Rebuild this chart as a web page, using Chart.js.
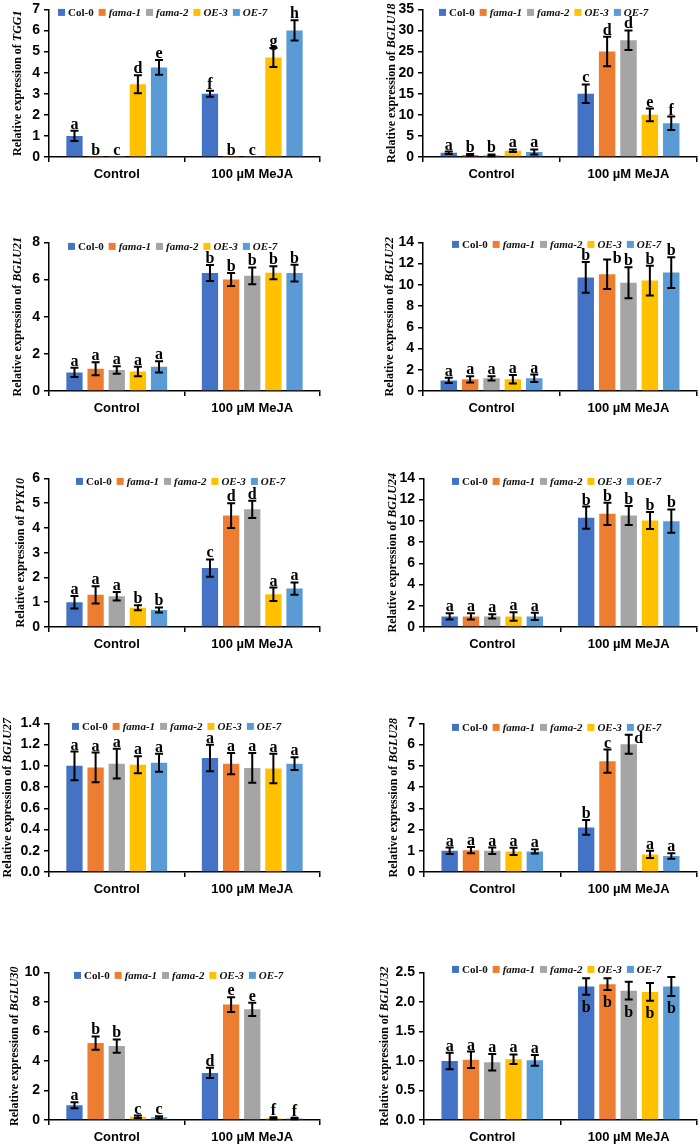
<!DOCTYPE html>
<html>
<head>
<meta charset="utf-8">
<script src="https://cdn.jsdelivr.net/npm/chart.js@4.4.0/dist/chart.umd.min.js"></script>
<style>
  body { margin: 0; background: #fff; }
  #wrap { position: relative; width: 700px; height: 1147px; overflow: hidden; background: #fff; }
  #wrap canvas { position: absolute; }
</style>
</head>
<body>
<div id="wrap"></div>
<script>
const categories = ["Control", "100 µM MeJA"];
const genotypes = ["Col-0", "fama-1", "fama-2", "OE-3", "OE-7"];
const italicName = [false, true, true, true, true];
const barColors = ["#4472C4", "#ED7D31", "#A5A5A5", "#FFC000", "#5B9BD5"];

const genes = ["TGG1", "BGLU18", "BGLU21", "BGLU22", "PYK10", "BGLU24", "BGLU27", "BGLU28", "BGLU30", "BGLU32"];
const yMax = [7, 35, 8, 14, 6, 14, 1.4, 7, 10, 2.5];
const yStep = [1, 5, 1, 2, 1, 2, 0.2, 1, 2, 0.5];
const yDecimals = [0, 0, 0, 0, 0, 0, 1, 0, 0, 1];

// one row per genotype: [Control, MeJA]
const tgg1Mean = [[1.0, 3.0], [0.02, 0.02], [0.02, 0.02], [3.45, 4.72], [4.25, 6.0]];
const tgg1Err = [[0.24, 0.14], [0, 0], [0, 0], [0.43, 0.45], [0.35, 0.48]];
const tgg1Let = [["a", "f"], ["b", "b"], ["c", "c"], ["d", "g"], ["e", "h"]];

const bglu18Mean = [[1.0, 15.0], [0.5, 25.0], [0.4, 27.7], [1.5, 10.0], [1.2, 8.0]];
const bglu18Err = [[0.3, 2.2], [0.2, 3.5], [0.2, 2.3], [0.3, 1.5], [0.6, 1.6]];
const bglu18Let = [["a", "c"], ["b", "d"], ["b", "d"], ["a", "e"], ["a", "f"]];

const bglu21Mean = [[1.0, 6.35], [1.2, 6.0], [1.13, 6.2], [1.05, 6.37], [1.3, 6.35]];
const bglu21Err = [[0.25, 0.43], [0.35, 0.35], [0.2, 0.45], [0.25, 0.35], [0.3, 0.45]];

const bglu22Mean = [[1.0, 10.7], [1.1, 11.0], [1.2, 10.2], [1.1, 10.4], [1.2, 11.16]];
const bglu22Err = [[0.25, 1.45], [0.3, 1.4], [0.2, 1.45], [0.4, 1.4], [0.35, 1.45]];

const pyk10Mean = [[1.0, 2.38], [1.3, 4.5], [1.24, 4.75], [0.78, 1.32], [0.69, 1.55]];
const pyk10Err = [[0.25, 0.35], [0.35, 0.5], [0.17, 0.35], [0.1, 0.27], [0.1, 0.25]];
const pyk10Let = [["a", "c"], ["a", "d"], ["a", "d"], ["b", "a"], ["b", "a"]];

const bglu24Mean = [[1.0, 10.3], [1.0, 10.66], [1.0, 10.5], [0.98, 10.03], [1.0, 9.97]];
const bglu24Err = [[0.3, 1.05], [0.3, 1.05], [0.2, 0.9], [0.4, 0.8], [0.35, 1.1]];

const bglu27Mean = [[1.0, 1.075], [0.985, 1.02], [1.02, 0.98], [1.01, 0.975], [1.03, 1.02]];
const bglu27Err = [[0.135, 0.125], [0.14, 0.1], [0.14, 0.14], [0.08, 0.14], [0.085, 0.06]];
const allA = [["a", "a"], ["a", "a"], ["a", "a"], ["a", "a"], ["a", "a"]];

const bglu28Mean = [[1.0, 2.1], [1.03, 5.22], [1.0, 6.02], [0.97, 0.83], [0.97, 0.75]];
const bglu28Err = [[0.15, 0.35], [0.15, 0.55], [0.15, 0.45], [0.17, 0.17], [0.1, 0.13]];
const bglu28Let = [["a", "b"], ["a", "c"], ["a", "d"], ["a", "a"], ["a", "a"]];

const bglu30Mean = [[1.0, 3.19], [5.21, 7.82], [5.01, 7.5], [0.22, 0.12], [0.18, 0.1]];
const bglu30Err = [[0.2, 0.35], [0.45, 0.5], [0.45, 0.45], [0.08, 0.07], [0.07, 0.05]];
const bglu30Let = [["a", "d"], ["b", "e"], ["b", "e"], ["c", "f"], ["c", "f"]];

const bglu32Mean = [[1.0, 2.26], [1.02, 2.3], [0.98, 2.19], [1.03, 2.17], [1.01, 2.26]];
const bglu32Err = [[0.14, 0.14], [0.14, 0.1], [0.14, 0.15], [0.08, 0.15], [0.09, 0.16]];

const abLet = [["a", "b"], ["a", "b"], ["a", "b"], ["a", "b"], ["a", "b"]];

const meanSets = [tgg1Mean, bglu18Mean, bglu21Mean, bglu22Mean, pyk10Mean, bglu24Mean, bglu27Mean, bglu28Mean, bglu30Mean, bglu32Mean];
const errSets = [tgg1Err, bglu18Err, bglu21Err, bglu22Err, pyk10Err, bglu24Err, bglu27Err, bglu28Err, bglu30Err, bglu32Err];
const letterSets = [tgg1Let, bglu18Let, abLet, abLet, pyk10Let, abLet, allA, bglu28Let, bglu30Let, abLet];

// page layout (pixels)
const plotTop = [9, 9, 242, 242, 478, 478, 723, 723, 972, 972];
const plotH = [148, 148, 149, 149, 149, 149, 149, 149, 148, 148];
const axisX = [49, 423, 49, 423, 49, 424, 49, 424, 49, 424];
const plotRight = [320, 697, 320, 697, 320, 697, 320, 697, 320, 697];
const titleGap = [31, 31, 31, 33, 28, 31, 41, 30, 34, 39];
const legendPos = [[9, 3], [16, 3], [19, 4], [29, 2], [27, 3], [28, 3], [23, 3], [28, 4], [25, 3], [28, -3]];
// [panel, genotype, category, dx, dy]
const letterNudge = [[3, 1, 1, 10, 6], [7, 2, 1, 10, 10]];
// panel whose MeJA letters sit under the error bar
const lettersBelow = [[9, 1]];

const PAD_TOP = 12, XH = 30, YW = 49;
const serif = '"Liberation Serif", "DejaVu Serif", serif';
const sans = '"Liberation Sans", Arial, sans-serif';

const extras = {
  id: 'extras',
  afterDatasetsDraw(chart, args, o) {
    const ctx = chart.ctx;
    const ys = chart.scales.y;
    ctx.save();
    ctx.strokeStyle = '#000';
    ctx.fillStyle = '#000';
    ctx.lineWidth = 2;
    chart.data.datasets.forEach((ds, i) => {
      const meta = chart.getDatasetMeta(i);
      meta.data.forEach((bar, j) => {
        const v = ds.data[j], e = ds.err[j];
        const yTop = ys.getPixelForValue(v + e);
        const yBot = ys.getPixelForValue(v - e);
        const x = bar.x;
        if (e > 0) {
          ctx.beginPath();
          ctx.moveTo(x, yTop); ctx.lineTo(x, yBot);
          ctx.moveTo(x - 4, yTop); ctx.lineTo(x + 4, yTop);
          ctx.moveTo(x - 4, yBot); ctx.lineTo(x + 4, yBot);
          ctx.stroke();
        }
        let dx = 0, dy = 0;
        letterNudge.forEach(n => {
          if (n[0] === o.panel && n[1] === i && n[2] === j) { dx = n[3]; dy = n[4]; }
        });
        const below = lettersBelow.some(b => b[0] === o.panel && b[1] === j);
        ctx.font = 'bold 16px ' + serif;
        ctx.textAlign = 'center';
        if (below) {
          ctx.textBaseline = 'top';
          ctx.fillText(ds.letters[j], x + dx, yBot + 5 + dy);
        } else {
          ctx.textBaseline = 'alphabetic';
          ctx.fillText(ds.letters[j], x + dx, yTop - 2 + dy);
        }
      });
    });
    ctx.restore();
  },
  afterDraw(chart, args, o) {
    const ctx = chart.ctx;
    const a = chart.chartArea;
    ctx.save();
    // y title with italic gene name
    const f1 = 'bold 12px ' + serif, f2 = 'italic bold 12px ' + serif;
    const t1 = 'Relative expression of ', t2 = o.gene;
    ctx.font = f1; const w1 = ctx.measureText(t1).width;
    ctx.font = f2; const w2 = ctx.measureText(t2).width;
    ctx.translate(a.left - o.titleGap, (a.top + a.bottom) / 2);
    ctx.rotate(-Math.PI / 2);
    ctx.fillStyle = '#000';
    ctx.textBaseline = 'middle';
    ctx.textAlign = 'left';
    ctx.font = f1; ctx.fillText(t1, -(w1 + w2) / 2, 0);
    ctx.font = f2; ctx.fillText(t2, -(w1 + w2) / 2 + w1, 0);
    ctx.restore();
    // legend
    ctx.save();
    let lx = a.left + o.legend[0];
    const ly = a.top + o.legend[1];
    ctx.textBaseline = 'middle';
    ctx.textAlign = 'left';
    genotypes.forEach((g, k) => {
      ctx.fillStyle = barColors[k];
      ctx.fillRect(lx, ly - 3.5, 7, 7);
      ctx.font = (italicName[k] ? 'italic ' : '') + 'bold 11px ' + serif;
      ctx.fillStyle = '#111';
      ctx.fillText(g, lx + 10, ly + 0.5);
      lx += 10 + ctx.measureText(g).width + 5;
    });
    ctx.restore();
  }
};

const wrap = document.getElementById('wrap');

genes.forEach((gene, p) => {
  const canvas = document.createElement('canvas');
  const left = axisX[p] - YW;
  const rightPad = 10;
  const w = plotRight[p] + rightPad - left;
  const h = PAD_TOP + plotH[p] + XH;
  canvas.width = w; canvas.height = h;
  canvas.style.left = left + 'px';
  canvas.style.top = (plotTop[p] - PAD_TOP) + 'px';
  canvas.style.width = w + 'px';
  canvas.style.height = h + 'px';
  wrap.appendChild(canvas);

  const datasets = genotypes.map((g, k) => ({
    label: g,
    data: meanSets[p][k],
    err: errSets[p][k],
    letters: letterSets[p][k],
    backgroundColor: barColors[k],
    borderWidth: 0,
    categoryPercentage: 0.78,
    barPercentage: 0.77
  }));

  new Chart(canvas, {
    type: 'bar',
    data: { labels: categories, datasets: datasets },
    options: {
      responsive: false,
      animation: false,
      devicePixelRatio: 1,
      layout: { padding: { top: PAD_TOP, right: rightPad, left: 0, bottom: 0 } },
      plugins: {
        legend: { display: false },
        tooltip: { enabled: false },
        extras: { panel: p, gene: gene, legend: legendPos[p], titleGap: titleGap[p] }
      },
      scales: {
        x: {
          grid: { display: true, drawOnChartArea: false, drawTicks: true, tickLength: 5, color: '#000', lineWidth: 1.5 },
          border: { display: true, color: '#000', width: 1.5 },
          ticks: { color: '#000', font: { family: sans, size: 13, weight: 'bold' }, padding: 5, maxRotation: 0, autoSkip: false },
          afterFit(s) { s.height = XH; }
        },
        y: {
          min: 0,
          max: yMax[p],
          grid: { display: true, drawOnChartArea: false, drawTicks: true, tickLength: 5, color: '#000', lineWidth: 1.5 },
          border: { display: true, color: '#000', width: 1.5 },
          ticks: {
            stepSize: yStep[p],
            color: '#000',
            padding: 4,
            font: { family: sans, size: 14, weight: 'bold' },
            callback: v => Number(v).toFixed(yDecimals[p])
          },
          afterFit(s) { s.width = YW; }
        }
      }
    },
    plugins: [extras]
  });
});
</script>
</body>
</html>
